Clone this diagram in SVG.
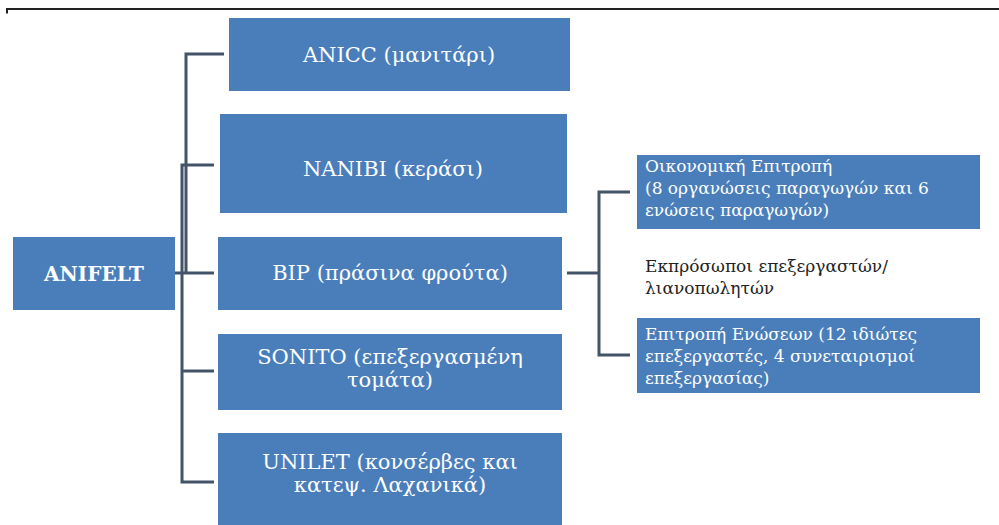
<svg xmlns="http://www.w3.org/2000/svg" width="999" height="525" viewBox="0 0 999 525">
<style>
.box{fill:#4a7ebb;}
.t{font-family:"DejaVu Serif","Liberation Serif",serif;fill:#fff;font-size:21px;text-anchor:middle;}
.b{font-weight:bold;font-size:20px;}
.s{font-family:"DejaVu Serif","Liberation Serif",serif;font-size:17px;fill:#fff;}
.k{fill:#222;}
.c{fill:none;stroke:#435468;stroke-width:3;}
.top{fill:none;stroke:#222;stroke-width:2;}
</style>
<rect width="999" height="525" fill="#fff"/>
<path class="top" d="M7 13.5 V9 H999"/>
<g id="connectors">
<path class="c" d="M224 54 H186 V273"/>
<path class="c" d="M175 273 H214"/>
<path class="c" d="M214 165 H182 V482 H214"/>
<path class="c" d="M182 371 H214"/>
<path class="c" d="M567 273 H599"/>
<path class="c" d="M630 192 H599 V355 H630"/>
</g>
<g id="anifelt"><rect class="box" x="13" y="237" width="162" height="73"/><text class="t b" x="94" y="281">ANIFELT</text></g>
<g id="anicc"><rect class="box" x="229" y="18" width="341" height="73"/><text class="t" x="399" y="62">ANICC (μανιτάρι)</text></g>
<g id="nanibi"><rect class="box" x="220" y="114" width="347" height="99"/><text class="t" x="393" y="176">NANIBI (κεράσι)</text></g>
<g id="bip"><rect class="box" x="218" y="237" width="344" height="73"/><text class="t" x="390" y="280">BIP (πράσινα φρούτα)</text></g>
<g id="sonito"><rect class="box" x="218" y="334" width="344" height="76"/><text class="t" x="390" y="364">SONITO (επεξεργασμένη</text><text class="t" x="390" y="387">τομάτα)</text></g>
<g id="unilet"><rect class="box" x="218" y="433" width="344" height="92"/><text class="t" x="390" y="469">UNILET (κονσέρβες και</text><text class="t" x="390" y="492">κατεψ. Λαχανικά)</text></g>
<g id="oikonomiki"><rect class="box" x="637" y="155" width="343" height="74"/><text class="s" x="645" y="172">Οικονομική Επιτροπή</text><text class="s" x="645" y="194">(8 οργανώσεις παραγωγών και 6</text><text class="s" x="645" y="216">ενώσεις παραγωγών)</text></g>
<g id="ekprosopoi"><text class="s k" x="645" y="272">Εκπρόσωποι επεξεργαστών/</text><text class="s k" x="645" y="294">λιανοπωλητών</text></g>
<g id="enoseon"><rect class="box" x="637" y="318" width="343" height="75"/><text class="s" x="645" y="340">Επιτροπή Ενώσεων (12 ιδιώτες</text><text class="s" x="645" y="362">επεξεργαστές, 4 συνεταιρισμοί</text><text class="s" x="645" y="384">επεξεργασίας)</text></g>
</svg>
